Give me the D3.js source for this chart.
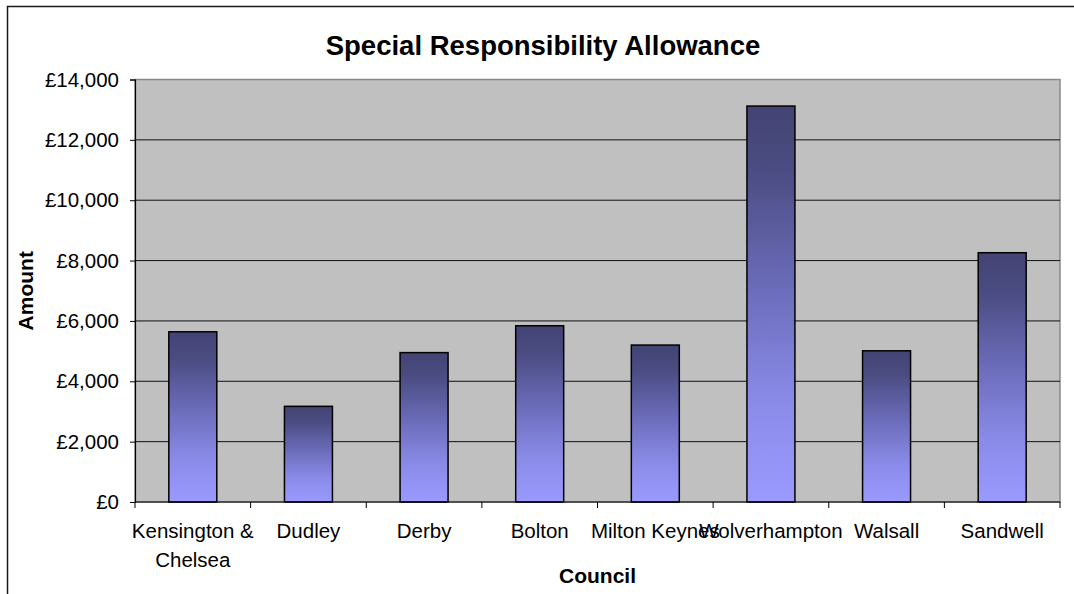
<!DOCTYPE html>
<html>
<head>
<meta charset="utf-8">
<script src="https://cdn.jsdelivr.net/npm/d3@7"></script>
<style>
  body { margin: 0; background: #fff; }
  svg { display: block; font-family: Arial, "Liberation Sans", sans-serif; }
</style>
</head>
<body>
<div id="chart"></div>
<script>
// data
const councils = ["Kensington & Chelsea", "Dudley", "Derby", "Bolton", "Milton Keynes", "Wolverhampton", "Walsall", "Sandwell"];
const amounts = [5640, 3170, 4950, 5840, 5200, 13120, 5010, 8260];
const councilLabels = [["Kensington &", "Chelsea"], ["Dudley"], ["Derby"], ["Bolton"], ["Milton Keynes"], ["Wolverhampton"], ["Walsall"], ["Sandwell"]];
const yTicks = [0, 2000, 4000, 6000, 8000, 10000, 12000, 14000];

const W = 1074, H = 594;
const margin = { top: 79.5, right: 14, bottom: 92, left: 135 };
const pw = W - margin.left - margin.right, ph = H - margin.top - margin.bottom;

const svg = d3.select("#chart").append("svg")
    .attr("width", W)
    .attr("height", H);

// outer chart border (runs off the picture at right and bottom)
svg.append("rect")
    .attr("x", 7.5).attr("y", 6.5)
    .attr("width", 1200).attr("height", 800)
    .attr("fill", "none")
    .attr("stroke", "#1a1a1a")
    .attr("stroke-width", 1.5);

// gradient used by every bar
const grad = svg.append("defs").append("linearGradient")
    .attr("id", "barFill")
    .attr("x1", 0).attr("y1", 0).attr("x2", 0).attr("y2", 1);
[["0%", "#434374"], ["15%", "#4a4b80"], ["45%", "#6a6bb8"], ["75%", "#8a8be8"], ["100%", "#9a9aff"]]
    .forEach(s => grad.append("stop").attr("offset", s[0]).attr("stop-color", s[1]));

const g = svg.append("g").attr("transform", `translate(${margin.left},${margin.top})`);

const x = d3.scaleBand().domain(councils).range([0, pw]).padding(0);
const y = d3.scaleLinear().domain([0, 14000]).range([ph, 0]);

// plot background
g.append("rect")
    .attr("width", pw).attr("height", ph)
    .attr("fill", "#c0c0c0")
    .attr("stroke", "#8a8a8a")
    .attr("stroke-width", 1.5);

// gridlines
g.selectAll(".grid")
    .data(yTicks.slice(1, -1))
    .enter().append("line")
    .attr("x1", 0).attr("x2", pw)
    .attr("y1", d => y(d)).attr("y2", d => y(d))
    .attr("stroke", "#111")
    .attr("stroke-width", 1);

// bars
const barW = x.bandwidth() * 0.415;
g.selectAll(".bar")
    .data(amounts)
    .enter().append("rect")
    .attr("x", (d, i) => x(councils[i]) + (x.bandwidth() - barW) / 2)
    .attr("y", d => y(d))
    .attr("width", barW)
    .attr("height", d => ph - y(d))
    .attr("fill", "url(#barFill)")
    .attr("stroke", "#000")
    .attr("stroke-width", 1.5);

// y axis
const yAxis = g.append("g")
    .call(d3.axisLeft(y).tickValues(yTicks).tickSize(5).tickPadding(11)
        .tickFormat(d => "£" + d3.format(",")(d)));
yAxis.select(".domain").attr("stroke", "#000").attr("stroke-width", 1.2);
yAxis.selectAll(".tick line").attr("stroke", "#000");
yAxis.selectAll("text")
    .attr("font-size", 20.5)
    .attr("font-family", "Arial, 'Liberation Sans', sans-serif")
    .attr("fill", "#000");

// x axis: line and ticks at category boundaries
const xa = g.append("g").attr("transform", `translate(0,${ph})`);
xa.append("line").attr("x1", 0).attr("x2", pw).attr("stroke", "#000").attr("stroke-width", 1.2);
const bounds = councils.map(c => x(c)).concat([pw]);
xa.selectAll(".xt")
    .data(bounds)
    .enter().append("line")
    .attr("x1", d => d).attr("x2", d => d)
    .attr("y1", 0).attr("y2", 6)
    .attr("stroke", "#000");

const lbl = xa.selectAll(".xl")
    .data(councilLabels)
    .enter().append("text")
    .attr("text-anchor", "middle")
    .attr("font-size", 20.5)
    .attr("fill", "#000")
    .attr("transform", (d, i) => `translate(${x(councils[i]) + x.bandwidth() / 2},36)`);
lbl.selectAll("tspan")
    .data(d => d)
    .enter().append("tspan")
    .attr("x", 0)
    .attr("dy", (d, i) => i === 0 ? 0 : 29)
    .text(d => d);

// titles
svg.append("text")
    .attr("x", 543).attr("y", 55)
    .attr("text-anchor", "middle")
    .attr("font-size", 27.5)
    .attr("font-weight", "bold")
    .text("Special Responsibility Allowance");

svg.append("text")
    .attr("x", margin.left + pw / 2).attr("y", 583)
    .attr("text-anchor", "middle")
    .attr("font-size", 21)
    .attr("font-weight", "bold")
    .text("Council");

svg.append("text")
    .attr("transform", `translate(33,${margin.top + ph / 2}) rotate(-90)`)
    .attr("text-anchor", "middle")
    .attr("font-size", 21)
    .attr("font-weight", "bold")
    .text("Amount");
</script>
</body>
</html>
